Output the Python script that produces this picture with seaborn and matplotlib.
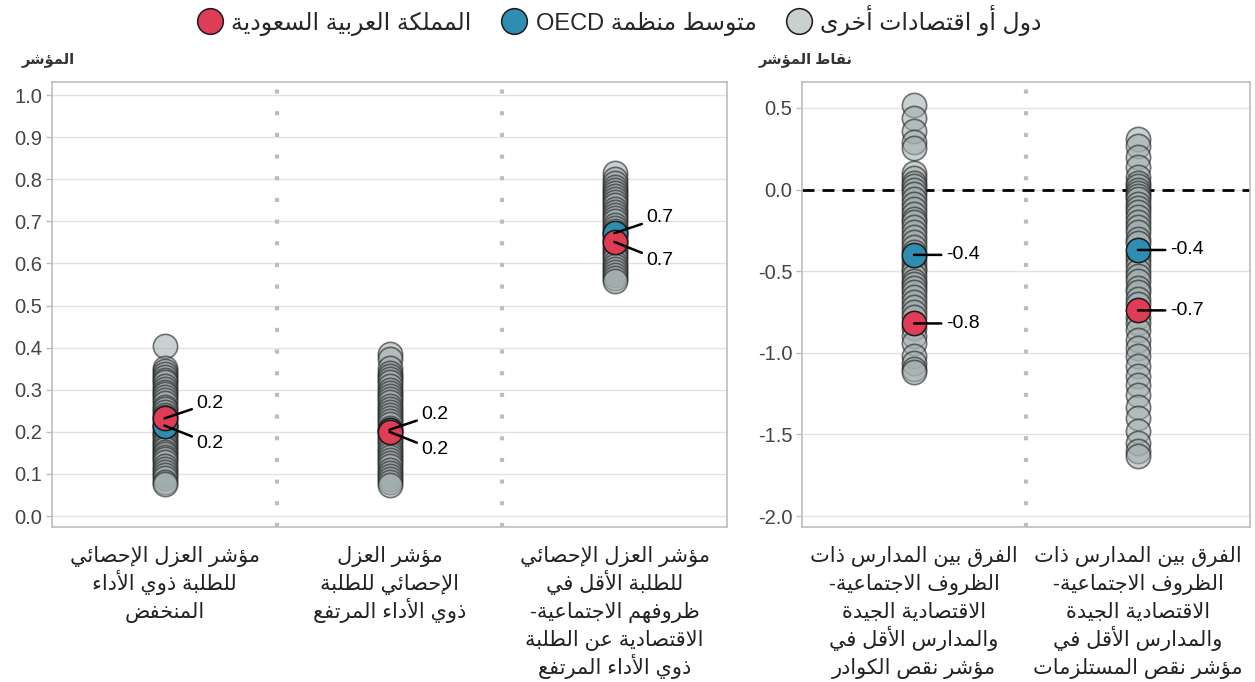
import re
import numpy as np
import pandas as pd
import matplotlib
matplotlib.use("Agg")
import matplotlib.pyplot as plt
from matplotlib.lines import Line2D
import seaborn as sns

# ---------------- data ----------------
left_cats = [
    "مؤشر العزل الإحصائي\nللطلبة ذوي الأداء\nالمنخفض",
    "مؤشر العزل\nالإحصائي للطلبة\nذوي الأداء المرتفع",
    "مؤشر العزل الإحصائي\nللطلبة الأقل في\nظروفهم الاجتماعية-\nالاقتصادية عن الطلبة\nذوي الأداء المرتفع",
]
right_cats = [
    "الفرق بين المدارس ذات\nالظروف الاجتماعية-\nالاقتصادية الجيدة\nوالمدارس الأقل في\nمؤشر نقص الكوادر",
    "الفرق بين المدارس ذات\nالظروف الاجتماعية-\nالاقتصادية الجيدة\nوالمدارس الأقل في\nمؤشر نقص المستلزمات",
]
legend_labels = ["المملكة العربية السعودية", "متوسط منظمة OECD", "دول أو اقتصادات أخرى"]
left_title = "المؤشر"
right_title = "نقاط المؤشر"

others_l1 = [0.405, 0.352, 0.345, 0.338, 0.33, 0.322, 0.318, 0.31, 0.302, 0.295, 0.29, 0.283,
             0.275, 0.268, 0.26, 0.255, 0.248, 0.24, 0.236, 0.228, 0.221, 0.215, 0.208, 0.2,
             0.196, 0.19, 0.183, 0.176, 0.17, 0.165, 0.16, 0.152, 0.148, 0.14, 0.135, 0.128,
             0.12, 0.112, 0.105, 0.098, 0.09, 0.082, 0.075]
others_l2 = [0.385, 0.372, 0.352, 0.34, 0.333, 0.325, 0.318, 0.31, 0.3, 0.292, 0.285, 0.278,
             0.27, 0.262, 0.255, 0.247, 0.24, 0.232, 0.225, 0.218, 0.21, 0.2, 0.193, 0.186,
             0.178, 0.17, 0.162, 0.155, 0.148, 0.14, 0.132, 0.125, 0.118, 0.11, 0.102, 0.095,
             0.088, 0.08, 0.074]
others_l3 = [0.815, 0.8, 0.79, 0.782, 0.775, 0.768, 0.76, 0.752, 0.745, 0.738, 0.73, 0.722,
             0.715, 0.708, 0.7, 0.692, 0.685, 0.678, 0.67, 0.663, 0.655, 0.648, 0.64, 0.632,
             0.625, 0.618, 0.61, 0.602, 0.595, 0.588, 0.58, 0.572, 0.565, 0.558]
others_r1 = [0.52, 0.44, 0.36, 0.29, 0.255, 0.1, 0.07, 0.04, 0.02, 0.0, -0.03, -0.06, -0.09,
             -0.12, -0.15, -0.18, -0.2, -0.23, -0.26, -0.29, -0.32, -0.35, -0.38, -0.42, -0.45,
             -0.48, -0.5, -0.53, -0.56, -0.58, -0.6, -0.63, -0.66, -0.69, -0.72, -0.75, -0.78,
             -0.85, -0.9, -0.94, -1.02, -1.06, -1.1, -1.12]
others_r2 = [0.31, 0.27, 0.2, 0.14, 0.08, 0.04, 0.02, 0.0, -0.02, -0.04, -0.06, -0.09, -0.11,
             -0.14, -0.17, -0.2, -0.23, -0.26, -0.3, -0.33, -0.4, -0.43, -0.46, -0.5, -0.53,
             -0.56, -0.6, -0.63, -0.67, -0.7, -0.78, -0.82, -0.86, -0.92, -0.97, -1.02, -1.08,
             -1.14, -1.2, -1.26, -1.33, -1.4, -1.48, -1.55, -1.6, -1.63]

oecd_left = [0.215, 0.205, 0.672]
ksa_left = [0.232, 0.2, 0.651]
oecd_right = [-0.4, -0.37]
ksa_right = [-0.82, -0.74]

left_yticks = [0.0, 0.1, 0.2, 0.3, 0.4, 0.5, 0.6, 0.7, 0.8, 0.9, 1.0]
right_yticks = [0.5, 0.0, -0.5, -1.0, -1.5, -2.0]

# ---------------- Arabic shaping (no bidi engine in matplotlib) ----------------
DUAL = {'ئ': 0xFE89, 'ب': 0xFE8F, 'ت': 0xFE95, 'ث': 0xFE99, 'ج': 0xFE9D, 'ح': 0xFEA1,
        'خ': 0xFEA5, 'س': 0xFEB1, 'ش': 0xFEB5, 'ص': 0xFEB9, 'ض': 0xFEBD, 'ط': 0xFEC1,
        'ظ': 0xFEC5, 'ع': 0xFEC9, 'غ': 0xFECD, 'ف': 0xFED1, 'ق': 0xFED5, 'ك': 0xFED9,
        'ل': 0xFEDD, 'م': 0xFEE1, 'ن': 0xFEE5, 'ه': 0xFEE9, 'ي': 0xFEF1}
RIGHT = {'آ': 0xFE81, 'أ': 0xFE83, 'ؤ': 0xFE85, 'إ': 0xFE87, 'ا': 0xFE8D, 'ة': 0xFE93,
         'د': 0xFEA9, 'ذ': 0xFEAB, 'ر': 0xFEAD, 'ز': 0xFEAF, 'و': 0xFEED, 'ى': 0xFEEF}
NONE = {'ء': 0xFE80}
LAMALEF = {'آ': 0xFEF5, 'أ': 0xFEF7, 'إ': 0xFEF9, 'ا': 0xFEFB}


def shape_line(s):
    toks = []
    i = 0
    while i < len(s):
        c = s[i]
        if c == 'ل' and i + 1 < len(s) and s[i + 1] in LAMALEF:
            toks.append(('R', LAMALEF[s[i + 1]]))
            i += 2
            continue
        if c in DUAL:
            toks.append(('D', DUAL[c]))
        elif c in RIGHT:
            toks.append(('R', RIGHT[c]))
        elif c in NONE:
            toks.append(('N', NONE[c]))
        else:
            toks.append(('X', c))
        i += 1
    out = []
    for k, (kind, base) in enumerate(toks):
        if kind == 'X':
            out.append(base)
            continue
        prev_j = k > 0 and toks[k - 1][0] == 'D'
        next_j = kind == 'D' and k + 1 < len(toks) and toks[k + 1][0] in ('D', 'R')
        if kind == 'N':
            off = 0
        elif kind == 'R':
            off = 1 if prev_j else 0
        else:
            off = 3 if (prev_j and next_j) else 1 if prev_j else 2 if next_j else 0
        out.append(chr(base + off))
    vis = ''.join(out)[::-1]
    vis = re.sub(r'[A-Za-z0-9.]+', lambda m: m.group(0)[::-1], vis)
    return vis


def ar(s):
    return '\n'.join(shape_line(l) for l in s.split('\n'))


# ---------------- style ----------------
sns.set_theme(style="white")
plt.rcParams['font.family'] = ['Liberation Sans', 'DejaVu Sans']

GREY_FILL = '#a3aeae'
RED = '#de3d55'
BLUE = '#2e8db0'
EDGE = '#1a1a1a'
MS = 17.5

fig = plt.figure(figsize=(12.55, 6.82), dpi=100)
axL = fig.add_axes([52 / 1255, 1 - 527 / 682, (727 - 52) / 1255, (527 - 82) / 682])
axR = fig.add_axes([802 / 1255, 1 - 527 / 682, (1250 - 802) / 1255, (527 - 82) / 682])


def build(cats, others):
    rows = []
    for c, vals in zip(cats, others):
        for v in vals:
            rows.append({'cat': c, 'val': v})
    return pd.DataFrame(rows)


def draw(ax, cats, others, oecd, ksa, ylim, yticks, fmt, label_mode):
    order = list(range(len(cats)))
    df = build(order, others)
    sns.stripplot(data=df, x='cat', y='val', order=order, jitter=False, size=MS,
                  color=GREY_FILL, alpha=0.58, edgecolor=EDGE, linewidth=1.2, ax=ax, zorder=3)
    dfo = pd.DataFrame({'cat': order, 'val': oecd})
    dfk = pd.DataFrame({'cat': order, 'val': ksa})
    sns.stripplot(data=dfo, x='cat', y='val', order=order, jitter=False, size=MS,
                  color=BLUE, edgecolor=EDGE, linewidth=1.1, ax=ax, zorder=4)
    sns.stripplot(data=dfk, x='cat', y='val', order=order, jitter=False, size=MS,
                  color=RED, edgecolor=EDGE, linewidth=1.1, ax=ax, zorder=5)
    for i in order:
        for v in (oecd[i], ksa[i]):
            if label_mode == 'split':
                hi = max(oecd[i], ksa[i])
                dy = 11 if v == hi else -13
            else:
                dy = 0
            ax.annotate(f"{v:.1f}", xy=(i, v), xytext=(23, dy), textcoords='offset points',
                        ha='left', va='center', fontsize=14, color='black', zorder=10,
                        arrowprops=dict(arrowstyle='-', lw=1.8, color='black',
                                        shrinkA=1, shrinkB=0))
    for s in range(len(cats) - 1):
        ax.axvline(s + 0.5, color='#bdbdbd', lw=3, ls=(0, (1, 4.2)), zorder=1)
    ax.set_xlim(-0.5, len(cats) - 0.5)
    ax.set_ylim(*ylim)
    ax.set_yticks(yticks)
    ax.set_yticklabels([fmt(t) for t in yticks])
    ax.set_xticks(order)
    ax.set_xticklabels([])
    # category labels: one text per line for an even line pitch
    for i, c in enumerate(cats):
        for j, line in enumerate(c.split('\n')):
            ax.annotate(shape_line(line), xy=(i, 0), xycoords=('data', 'axes fraction'),
                        xytext=(0, -25.0 - 20.16 * j), textcoords='offset points',
                        ha='center', va='baseline', fontsize=15, color='#222222',
                        annotation_clip=False)
    ax.set_xlabel('')
    ax.set_ylabel('')
    ax.grid(axis='y', color='#e2e2e2', lw=1, zorder=0)
    ax.grid(axis='x', visible=False)
    ax.set_axisbelow(True)
    for sp in ax.spines.values():
        sp.set_color('#bdbdbd')
        sp.set_linewidth(1.2)
    ax.tick_params(axis='y', which='both', left=True, length=4, width=1, color='#bdbdbd',
                   labelsize=14.5, labelcolor='#444444', pad=3)
    ax.tick_params(axis='x', bottom=False)


draw(axL, left_cats, [others_l1, others_l2, others_l3], oecd_left, ksa_left,
     (-0.026, 1.031), left_yticks, lambda t: f"{t:.1f}", 'split')
draw(axR, right_cats, [others_r1, others_r2], oecd_right, ksa_right,
     (-2.067, 0.659), right_yticks, lambda t: f"{t:.1f}", 'flat')
axR.axhline(0, color='black', lw=2, ls=(0, (4.3, 2.9)), zorder=2)

fig.text(75 / 1255, 1 - 60 / 682, ar(left_title), ha='right', va='center',
         fontsize=10.5, fontweight='bold', color='#333333')
fig.text(852 / 1255, 1 - 60 / 682, ar(right_title), ha='right', va='center',
         fontsize=10.5, fontweight='bold', color='#333333')

handles = [
    Line2D([], [], ls='', marker='o', ms=18.5, mfc=RED, mec=EDGE, mew=1.1),
    Line2D([], [], ls='', marker='o', ms=18.5, mfc=BLUE, mec=EDGE, mew=1.1),
    Line2D([], [], ls='', marker='o', ms=18.5, mfc='#c9d0d0', mec=EDGE, mew=1.1),
]
fig.legend(handles, [ar(l) for l in legend_labels], loc='center', ncol=3,
           bbox_to_anchor=(620 / 1255, 1 - 20 / 682), frameon=False, fontsize=17,
           handletextpad=0.4, columnspacing=1.3, handlelength=1.0)

fig.savefig('out.png', dpi=100)
